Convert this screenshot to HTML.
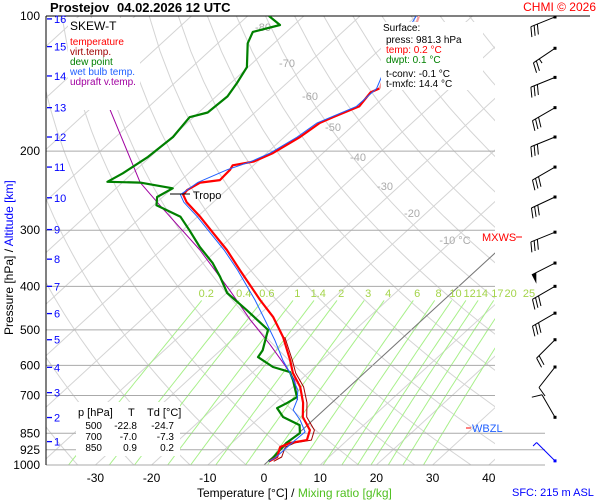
<!DOCTYPE html>
<html><head><meta charset="utf-8"><style>
body{margin:0;background:#fff;}
svg{display:block;font-family:"Liberation Sans",sans-serif;}
</style></head><body>
<svg id="c" width="600" height="500" viewBox="0 0 600 500"></svg>
<script>
// ---- data ----
const tempP=[981,960,912,893,880,836,782,727,670,624,584,519,468,429,368,332,304,280,260,250,244,235,232,220,215,211,202,186,173,168,159,148,145];
const tempT=[0.2,0.8,-0.6,0.4,2.8,1.4,-2.4,-5.1,-8.7,-12.7,-15.7,-21.4,-27.1,-32.7,-42.1,-48.3,-54.1,-59.5,-64.7,-66.8,-67.0,-66.1,-63.1,-63.3,-63.7,-60.7,-58.9,-57.2,-56.4,-55.2,-52.6,-53.3,-52.5];
const tempUpP=[145,129,115,104,100];
const tempUpT=[-52.5,-55.2,-57.1,-58.5,-59.5];
const virtP=[981,960,912,893,880,836,782,727,670,624,584,519];
const virtT=[1.0,1.6,0.3,1.2,3.6,2.2,-1.7,-4.4,-8.1,-12.2,-15.3,-21.1];
const dewP=[981,965,893,849,815,782,747,727,706,647,621,605,575,555,500,452,414,381,355,327,300,280,264,253,242,235,234,224,206,186,168,164,151,141,130,115,108.5,104.7,100];
const dewT=[0.1,0.2,-0.3,0.2,-1.4,-5.9,-8.7,-7.9,-7.3,-11.3,-13.4,-17.4,-22.0,-22.5,-25.5,-33.1,-39.9,-44.3,-48.3,-53.7,-58.8,-63.0,-69.5,-71.0,-69.9,-76.8,-82.8,-81.7,-80.4,-79.8,-80.7,-78.4,-78.0,-78.9,-80.2,-84.7,-86.0,-82.5,-86.2];
const wbP=[981,965,893,844,794,754,717,681,624,584,527,475,429,368,332,304,280,260,250,235,220,211,202,186,173,159,145,129,115,100];
const wbT=[0.1,0.6,0.7,0.9,-2.3,-5.5,-6.7,-8.5,-13.2,-17.0,-22.3,-28.0,-33.6,-42.5,-48.8,-54.6,-60.0,-65.2,-67.3,-66.6,-63.8,-61.2,-59.4,-57.7,-56.9,-53.1,-53.0,-55.7,-57.6,-60.0];
const upP=[717,647,599,540,475,408,332,264,235,162,102];
const upT=[-6.6,-11.0,-15.7,-22.2,-30.6,-40.0,-53.1,-68.9,-76.8,-96.2,-120.3];
const pressTicks=[100,200,300,400,500,600,700,850,925,1000];
const tempTicks=[-30,-20,-10,0,10,20,30,40];
const altKm=[1,2,3,4,5,6,7,8,9,10,11,12,13,14,15,16];
const altP=[887,784,690,606,526,460,400,348,299,254,217,186,160,136,117,101.5];
const mixW=[0.2,0.4,0.6,1,1.4,2,3,4,6,8,10,12,14,17,20,25];
const isoLabelT=[-80,-70,-60,-50,-40,-30,-20,-10];
const isoLabelX=[263,287,310,333,358,385,412,455];
const isoLabelY=[31,67,100,131,161,190,217,244];
const windP=[100.5,118,137,160,186,217,253,303,355,400,459,526,605,783,979];
const windDir=[248,236,248,240,248,240,245,248,243,240,240,225,218,330,315];
const windSpd=[30,25,30,30,30,30,30,30,50,30,30,20,10,10,5];
const tableRows=[["500","-22.8","-24.7"],["700","-7.0","-7.3"],["850","0.9","0.2"]];

// ---- axes ----
const L=46,R=495,T0=16,B=465;
function yp(p){return T0+(B-T0)*Math.log10(p/100);}
function xT(t,p){return 264+5.62*t+1.09*(B-yp(p));}
const NS="http://www.w3.org/2000/svg";
const svg=document.getElementById('c');
function el(tag,attrs,parent){const e=document.createElementNS(NS,tag);for(const k in attrs)e.setAttribute(k,attrs[k]);(parent||svg).appendChild(e);return e;}
function txt(s,x,y,attrs,parent){const e=el('text',Object.assign({x:x,y:y,'font-size':11},attrs||{}),parent);e.textContent=s;return e;}

const defs=el('defs',{});
const cp=el('clipPath',{id:'plot'},defs);
el('rect',{x:L,y:T0,width:R-L,height:B-T0},cp);

const grid=el('g',{'clip-path':'url(#plot)'});


for(let t=-140;t<=40;t+=10){
  const ln=el('line',{x1:xT(t,1000),y1:yp(1000),x2:xT(t,100),y2:yp(100),stroke:'#d4d4d4','stroke-width':1},grid);
  
  
}
for(let th=230;th<=470;th+=10){
  let d='';
  for(let p=1000;p>=100;p-=20){const t=th*Math.pow(p/1000,0.286)-273.15;d+=(d?'L':'M')+xT(t,p).toFixed(1)+','+yp(p).toFixed(1);}
  const pa=el('path',{d:d,fill:'none',stroke:'#d4d4d4','stroke-width':1},grid);
  
  
}
function tdOf(w,p){const e=w*p/(622+w);const a=Math.log(e/6.112);return 243.5*a/(17.67-a);}
mixW.forEach(w=>{
  let d='';
  for(let p=1000;p>=430;p-=10){d+=(d?'L':'M')+xT(tdOf(w,p),p).toFixed(1)+','+yp(p).toFixed(1);}
  const pa=el('path',{d:d,fill:'none',stroke:'#a8f08a','stroke-width':1},grid);
  
  
  const lb=txt(String(w),xT(tdOf(w,418),418),yp(418)+2,{'text-anchor':'middle',fill:'#a4d44a'});
  
  
});
const zi=el('line',{x1:xT(0,1000),y1:yp(1000),x2:xT(0,330),y2:yp(330),stroke:'#777','stroke-width':1},grid);


pressTicks.forEach(p=>{
  const right=(p>=850)?545:R;
  const ln=el('line',{x1:L,y1:yp(p),x2:right,y2:yp(p),stroke:p==100?'#000':'#aaa','stroke-width':1});
  
  
  const lb=txt(String(p),40,yp(p)+4,{'text-anchor':'end','font-size':12});
  
  
});
el('line',{x1:R,y1:T0,x2:590,y2:T0,stroke:'#000'});
isoLabelT.forEach((t,i)=>{
  const lb=txt(t==-10?'-10 °C':String(t),isoLabelX[i],isoLabelY[i],{fill:'#aaa','text-anchor':'middle'});
  
  
});
el('line',{x1:L,y1:T0,x2:L,y2:B,stroke:'#000'});
tempTicks.forEach(t=>{
  const lb=txt(String(t),xT(t,1000),482,{'text-anchor':'middle','font-size':12});
  
  
});

// ---- series ----
const plot=el('g',{'clip-path':'url(#plot)'});
function line(P,Tv,color,w,name){
  let d='';P.forEach((p,i)=>{d+=(i?'L':'M')+xT(Tv[i],p).toFixed(1)+','+yp(p).toFixed(1);});
  const pa=el('path',{d:d,fill:'none',stroke:color,'stroke-width':w,'stroke-linejoin':'round'},plot);
  
  
}
line(upP,upT,'#a000a0',1,'updraft-line');
line(dewP,dewT,'#008000',2.2,'dewpoint-line');
line(virtP,virtT,'#a00000',1,'virtual-temp-line');
line(tempUpP,tempUpT,'#f4a0a0',2.2,'temperature-upper-line');
line(tempP,tempT,'#f00',2.2,'temperature-line');
line(wbP,wbT,'#2060ff',1,'wet-bulb-line');

el('line',{x1:170,y1:194,x2:190,y2:194,stroke:'#000'});
txt('Tropo',193,199,{});
el('line',{x1:516,y1:237,x2:522,y2:237,stroke:'#f00'});
txt('MXWS',482,241,{fill:'#f00',});
el('line',{x1:466,y1:428,x2:471,y2:428,stroke:'#f00'});
txt('WBZL',472,432,{fill:'#2060ff',});

const lg=el('g',{});
el('rect',{x:68,y:18,width:72,height:92,fill:'#fff'},lg);
txt('SKEW-T',70,30,{'font-size':12},lg);
[['temperature','#f00'],['virt.temp.','#a00000'],['dew point','#008000'],['wet bulb temp.','#2060ff'],['udpraft v.temp.','#a000a0']].forEach((e,i)=>{
  txt(e[0],70,45+i*10,{fill:e[1],'font-size':10,},lg);
});
altKm.forEach((k,i)=>{
  const y=yp(altP[i]);
  el('line',{x1:47,y1:y,x2:52,y2:y,stroke:'#00f','stroke-width':1.3});
  const lb=txt(String(k),54,y+4,{fill:'#00f'});
  
  
});
const sb=el('g',{});
el('rect',{x:381,y:22,width:102,height:68,fill:'#fff'},sb);
txt('Surface:',383,31,{'font-size':10},sb);
txt('press: 981.3 hPa',386,43,{'font-size':10},sb);
txt('temp: 0.2 °C',386,53,{'font-size':10,fill:'#f00'},sb);
txt('dwpt: 0.1 °C',386,63,{'font-size':10,fill:'#008000'},sb);
txt('t-conv: -0.1 °C',386,77,{'font-size':10},sb);
txt('t-mxfc: 14.4 °C',386,87,{'font-size':10},sb);
const tb=el('g',{});
el('rect',{x:76,y:402,width:104,height:54,fill:'#fff'},tb);
txt('p [hPa]',78,416,{'font-size':11},tb);txt('T',128,416,{'font-size':11},tb);txt('Td [°C]',147,416,{'font-size':11},tb);
tableRows.forEach((r,i)=>{
  const y=429+i*11;
  txt(r[0],102,y,{'font-size':10,'text-anchor':'end'},tb);
  txt(r[1],137,y,{'font-size':10,'text-anchor':'end'},tb);
  txt(r[2],174,y,{'font-size':10,'text-anchor':'end'},tb);
});

windP.forEach((p,i)=>{
  const g=el('g',{});
  
  
  const y=yp(p),x=555,col=(i==windP.length-1)?'#00f':'#000';
  const a=windDir[i]*Math.PI/180,Ls=26;
  const ux=Math.sin(a),uy=-Math.cos(a);
  const ex=x+ux*Ls,ey=y+uy*Ls;
  el('line',{x1:x,y1:y,x2:ex,y2:ey,stroke:col},g);
  el('rect',{x:x-1.5,y:y-1.5,width:3,height:3,fill:col},g);
  const px=uy,py=-ux;
  let s=windSpd[i],k=0;
  while(s>=50){const bx=ex-ux*k*4,by=ey-uy*k*4;el('polygon',{points:`${bx},${by} ${bx+px*10},${by+py*10} ${bx-ux*5},${by-uy*5}`,fill:col},g);s-=50;k+=2;}
  while(s>=10){const bx=ex-ux*k*3.5,by=ey-uy*k*3.5;el('line',{x1:bx,y1:by,x2:bx+px*10+ux*3,y2:by+py*10+uy*3,stroke:col},g);s-=10;k++;}
  if(s>=5){const bx=ex-ux*k*3.5,by=ey-uy*k*3.5;el('line',{x1:bx,y1:by,x2:bx+px*5,y2:by+py*5,stroke:col},g);}
});

txt('Prostejov',50,12,{'font-size':13,'font-weight':'bold',});
txt('04.02.2026 12 UTC',117,12,{'font-size':13,'font-weight':'bold',});
txt('CHMI © 2026',596,11,{'font-size':12,fill:'#f00','text-anchor':'end',});
const yt=el('text',{x:0,y:0,'font-size':12,transform:'translate(13,335) rotate(-90)',});
yt.innerHTML='Pressure [hPa]  /  <tspan fill="#00f">Altitude [km]</tspan>';
const xtl=el('text',{x:197,y:497,'font-size':12,});
xtl.innerHTML='Temperature [°C]  /  <tspan fill="#50c020">Mixing ratio [g/kg]</tspan>';
txt('SFC: 215 m ASL',512,496,{'font-size':11,fill:'#00f',});
</script>
</body></html>
